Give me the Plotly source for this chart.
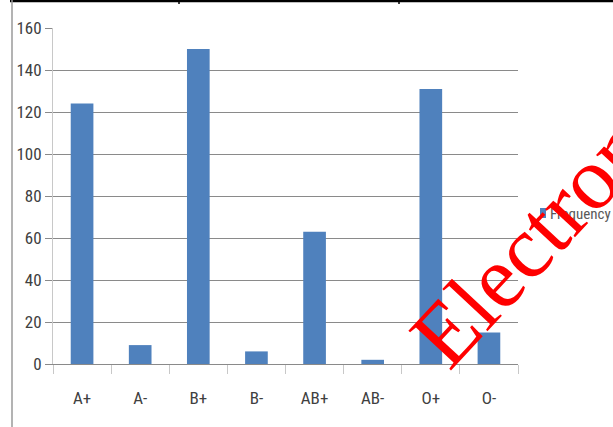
import plotly.graph_objects as go

# Blood group frequencies
blood_groups = ["A+", "A-", "B+", "B-", "AB+", "AB-", "O+", "O-"]
frequency = [124, 9, 150, 6, 63, 2, 131, 15]
y_ticks = [0, 20, 40, 60, 80, 100, 120, 140, 160]

W, H = 613, 427
ML, MR, MT, MB = 53, 95, 28, 63
PW, PH = W - ML - MR, H - MT - MB

BAR = "#4F81BD"
GRID = "#8A8A8A"
TXT = "#404040"
FONT = "Roboto Condensed, DejaVu Sans Condensed, Liberation Sans, sans-serif"


def px(x):
    return (x - ML) / PW


def py(y):
    return (H - MB - y) / PH


fig = go.Figure(
    go.Bar(
        x=blood_groups,
        y=frequency,
        name="Frequency",
        marker=dict(color=BAR, line=dict(width=0)),
        width=0.39,
        showlegend=False,
    )
)

fig.update_layout(
    width=W,
    height=H,
    margin=dict(l=ML, r=MR, t=MT, b=MB, pad=0),
    paper_bgcolor="white",
    plot_bgcolor="white",
    font=dict(family=FONT, size=16, color=TXT),
)

fig.update_yaxes(
    range=[0, 160],
    tickvals=y_ticks,
    showgrid=True,
    gridcolor=GRID,
    gridwidth=1,
    showline=True,
    linecolor="#C8C8C8",
    linewidth=1,
    ticks="outside",
    ticklen=7,
    tickcolor=GRID,
    zeroline=False,
    tickfont=dict(family=FONT, size=17, color=TXT),
)

fig.update_xaxes(
    showline=True,
    linecolor=GRID,
    linewidth=1,
    ticks="outside",
    tickson="boundaries",
    ticklen=9,
    tickcolor="#C8C8C8",
    showgrid=False,
    ticklabelstandoff=19,
    tickfont=dict(family=FONT, size=17, color=TXT),
)

shapes = [
    # page frame: top rule with cell dividers and left rule
    dict(type="line", xref="paper", yref="paper",
         x0=px(10), x1=px(613), y0=py(1), y1=py(1),
         line=dict(color="black", width=2.5)),
    dict(type="line", xref="paper", yref="paper",
         x0=px(179), x1=px(179), y0=py(0), y1=py(4),
         line=dict(color="black", width=1.5)),
    dict(type="line", xref="paper", yref="paper",
         x0=px(399), x1=px(399), y0=py(0), y1=py(4),
         line=dict(color="black", width=1.5)),
    dict(type="line", xref="paper", yref="paper",
         x0=px(12), x1=px(12), y0=py(0), y1=py(427),
         line=dict(color="#9A9A9A", width=1.5)),
    # legend swatch
    dict(type="rect", xref="paper", yref="paper",
         x0=px(540), x1=px(546), y0=py(208), y1=py(218),
         fillcolor=BAR, line=dict(width=0)),
]

annotations = [
    dict(text="Frequency", xref="paper", yref="paper",
         x=px(548), y=py(214), xanchor="left", yanchor="middle",
         showarrow=False, font=dict(family=FONT, size=15, color="#595959")),
    dict(text="Electronic", xref="paper", yref="paper",
         x=px(552), y=py(218), xanchor="center", yanchor="middle",
         textangle=-47, showarrow=False,
         font=dict(family="Liberation Serif, Times New Roman, serif",
                   size=89, color="#FF0000")),
]

fig.update_layout(shapes=shapes, annotations=annotations)

fig.write_html("out.html")
